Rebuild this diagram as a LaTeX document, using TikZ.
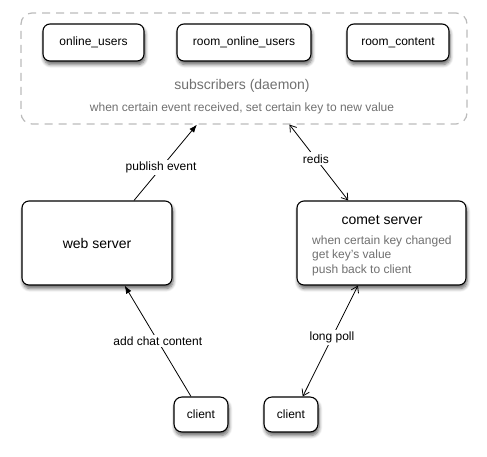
\documentclass[tikz,border=0pt]{standalone}
\usepackage{fontspec}
\setmainfont{Liberation Sans}
\usetikzlibrary{arrows.meta,shadows.blur}
\definecolor{txtgray}{HTML}{707070}
\definecolor{dashgray}{HTML}{BBBBBB}
\tikzset{
  box/.style={draw=black, line width=1.1pt, rounded corners=7pt, fill=white,
    blur shadow={shadow xshift=1pt, shadow yshift=-3.5pt, shadow blur steps=6, shadow blur radius=3.5pt, shadow opacity=60},
    inner sep=0pt, font=\fontsize{12}{14}\selectfont},
  bigbox/.style={box, font=\fontsize{14}{16}\selectfont},
  container/.style={draw=dashgray, line width=1.2pt, dash pattern=on 8pt off 6pt, rounded corners=11pt, inner sep=0pt},
  conn/.style={line width=0.8pt},
  fillhead/.style={conn, -{Latex[length=8pt,width=6pt]}},
  openboth/.style={conn, {Straight Barb[length=6pt,width=8pt]}-{Straight Barb[length=6pt,width=8pt]}},
  lbl/.style={fill=white, inner sep=2pt, font=\fontsize{12}{14}\selectfont},
  graytxt/.style={text=txtgray, inner sep=0pt}
}
\begin{document}
\begin{tikzpicture}[x=1pt,y=-1pt]
\useasboundingbox (0,0) rectangle (487,456);
% container
\node[container, minimum width=446pt, minimum height=111pt] (sub) at (244,68.5) {};
\node[box, minimum width=101pt, minimum height=37pt] (online) at (93.5,42.5) {online\_users};
\node[box, minimum width=134pt, minimum height=37pt] (roomonline) at (244,42.5) {room\_online\_users};
\node[box, minimum width=102pt, minimum height=37pt] (roomcontent) at (398,42.5) {room\_content};
\node[graytxt, font=\fontsize{14}{16}\selectfont] (subtitle) at (242,86) {subscribers (daemon)};
\node[graytxt, font=\fontsize{12}{14}\selectfont] (subdesc) at (242,108) {when certain event received, set certain key to new value};
% servers
\node[bigbox, minimum width=150pt, minimum height=84pt] (web) at (97,243) {web server};
\node[bigbox, minimum width=169pt, minimum height=84pt] (comet) at (381.5,243) {};
\node[inner sep=0pt, font=\fontsize{14}{16}\selectfont] (comettitle) at (382,220.5) {comet server};
\node[graytxt, anchor=north west, align=left, font=\fontsize{12}{14.5}\selectfont] (cometdesc) at (312,235.5) {when certain key changed\\get key's value\\push back to client};
% clients
\node[box, minimum width=54pt, minimum height=35pt, rounded corners=8pt] (client1) at (201,414.5) {client};
\node[box, minimum width=54pt, minimum height=35pt, rounded corners=8pt] (client2) at (291,414.5) {client};
% connectors
\draw[fillhead] (web.49.4) -- node[lbl, pos=0.43] (lpub) {publish event} (sub.-130.35);
\draw[openboth] (sub.-51.46) -- node[lbl, pos=0.45] (lredis) {redis} (comet.128.6);
\draw[fillhead] (client1.119.7) -- node[lbl, pos=0.5] (lchat) {add chat content} (web.-57.3);
\draw[openboth] (comet.-119.2) -- node[lbl, pos=0.47] (lpoll) {long poll} (client2.57.8);
\end{tikzpicture}
\end{document}
